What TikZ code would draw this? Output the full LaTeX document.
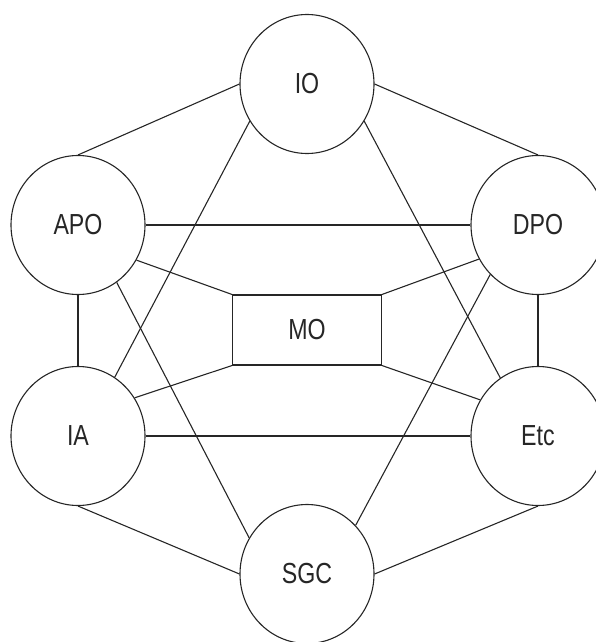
\documentclass[tikz,border=0pt]{standalone}
\usepackage{fontspec}
\setmainfont{Liberation Sans}[FakeStretch=0.8]
\usetikzlibrary{shapes.geometric}
\begin{document}
\begin{tikzpicture}[x=1pt,y=-1pt, line width=1.1pt, color=black!85,
  orb/.style={ellipse, draw, inner sep=0pt, minimum width=134pt, minimum height=139pt,
    font=\fontsize{29}{31}\selectfont},
  core/.style={rectangle, draw, inner sep=0pt, minimum width=149pt, minimum height=70pt,
    font=\fontsize{29}{31}\selectfont},
  link/.style={draw}]
  \useasboundingbox (0,0) rectangle (595,642);
  % nodes
  \node[orb] (IO)  at (307,84)  {IO};
  \node[orb] (APO) at (78,225)  {APO};
  \node[orb] (DPO) at (538,225) {DPO};
  \node[core] (MO) at (307,330) {MO};
  \node[orb] (IA)  at (78,436)  {IA};
  \node[orb] (Etc) at (538,436) {Etc};
  \node[orb] (SGC) at (307,574) {SGC};
  % outer ring
  \draw[link] (IO.west) -- (APO.north);
  \draw[link] (IO.east) -- (DPO.north);
  \draw[link] (APO.south) -- (IA.north);
  \draw[link] (DPO.south) -- (Etc.north);
  \draw[link] (IA.south) -- (SGC.west);
  \draw[link] (Etc.south) -- (SGC.east);
  % horizontals
  \draw[link] (APO.east) -- (DPO.west);
  \draw[link] (IA.east) -- (Etc.west);
  % diagonals
  \draw[link] (IO.213) -- (IA.58);
  \draw[link] (IO.327) -- (Etc.123);
  \draw[link] (APO.304) -- (SGC.148);
  \draw[link] (DPO.226) -- (SGC.45);
  % spokes into MO
  \draw[link] (APO.329) -- (MO.north west);
  \draw[link] (DPO.210) -- (MO.north east);
  \draw[link] (IA.34) -- (MO.south west);
  \draw[link] (Etc.148) -- (MO.south east);
\end{tikzpicture}
\end{document}
